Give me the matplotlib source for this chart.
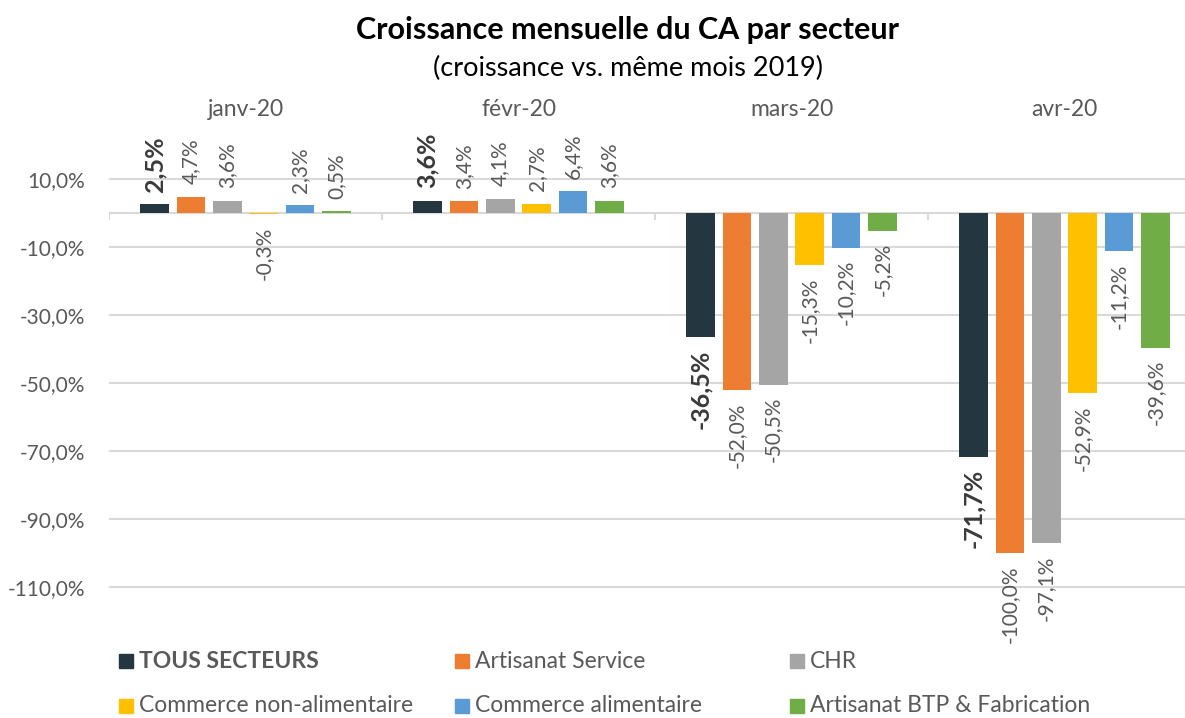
import matplotlib.pyplot as plt
import numpy as np
from matplotlib.patches import Rectangle
from matplotlib.transforms import blended_transform_factory

plt.rcParams["font.family"] = ["Lato", "DejaVu Sans"]

months = ["janv-20", "févr-20", "mars-20", "avr-20"]
series_names = [
    "TOUS SECTEURS",
    "Artisanat Service",
    "CHR",
    "Commerce non-alimentaire",
    "Commerce alimentaire",
    "Artisanat BTP & Fabrication",
]
tous_secteurs = [2.5, 3.6, -36.5, -71.7]
artisanat_service = [4.7, 3.4, -52.0, -100.0]
chr_values = [3.6, 4.1, -50.5, -97.1]
commerce_non_alim = [-0.3, 2.7, -15.3, -52.9]
commerce_alim = [2.3, 6.4, -10.2, -11.2]
artisanat_btp = [0.5, 3.6, -5.2, -39.6]
y_ticks = [10, -10, -30, -50, -70, -90, -110]

colors = ["#243640", "#ED7D31", "#A5A5A5", "#FFC000", "#5B9BD5", "#70AD47"]
all_series = [tous_secteurs, artisanat_service, chr_values,
              commerce_non_alim, commerce_alim, artisanat_btp]

W, H = 1185, 718
fig = plt.figure(figsize=(W / 100, H / 100), dpi=100)
# plot area: x 109..1185 px, y 138..638 px
ax = fig.add_axes([109 / W, 1 - 638 / H, (W - 109) / W, 500 / H])

x = np.arange(len(months))
step = 0.1333
width = 0.105
text_grey = "#595959"

for i, (name, vals, col) in enumerate(zip(series_names, all_series, colors)):
    pos = x + (i - 2.5) * step
    ax.bar(pos, vals, width=width, color=col, zorder=3)
    bold = i == 0
    for px_, v in zip(pos, vals):
        label = f"{v:.1f}%".replace(".", ",")
        off = 9 if v >= 0 else -9
        ax.annotate(label, (px_, v), xytext=(0, off), textcoords="offset points",
                    rotation=90, ha="center", va="bottom" if v >= 0 else "top",
                    fontsize=18 if bold else 15,
                    fontweight="bold" if bold else "normal",
                    color="#3A3A3A" if bold else text_grey,
                    annotation_clip=False, zorder=4)

ax.set_xlim(-0.5, 3.5 - 16 / 273)
ax.set_ylim(-125, 22)
ax.set_yticks(y_ticks)
ax.set_yticklabels([f"{t:.1f}%".replace(".", ",") for t in y_ticks],
                   fontsize=15, color=text_grey)
ax.tick_params(axis="y", length=0, pad=17)
ax.set_xticks([])
ax.grid(axis="y", color="#D9D9D9", linewidth=1.5, zorder=0)
ax.axhline(0, color="#D9D9D9", linewidth=1.5, zorder=2)
ax.vlines(np.arange(-0.5, 4, 1.0), -2.2, 0, color="#D9D9D9", linewidth=1.5, zorder=2)
for s in ax.spines.values():
    s.set_visible(False)

trans = blended_transform_factory(ax.transData, ax.transAxes)
for xi, m in zip(x, months):
    ax.text(xi, 1 + 28 / 500, m, transform=trans, ha="center", va="center",
            fontsize=16.5, color=text_grey)

fig.text(628 / W, 1 - 30 / H, "Croissance mensuelle du CA par secteur",
         ha="center", va="center", fontsize=22, fontweight="bold", color="black")
fig.text(628 / W, 1 - 68 / H, "(croissance vs. même mois 2019)",
         ha="center", va="center", fontsize=19.5, color="black")

# legend, 2 rows x 3 columns
col_x = [119, 455, 790]
row_y = [661, 706]
for i, (name, col) in enumerate(zip(series_names, colors)):
    lx = col_x[i % 3]
    ly = row_y[i // 3]
    fig.add_artist(Rectangle((lx / W, 1 - (ly + 7) / H), 14 / W, 14 / H,
                             transform=fig.transFigure, color=col))
    fig.text((lx + 20) / W, 1 - ly / H, name, ha="left", va="center",
             fontsize=16.5, color=text_grey,
             fontweight="bold" if i == 0 else "normal")

fig.savefig("out.png", dpi=100)
